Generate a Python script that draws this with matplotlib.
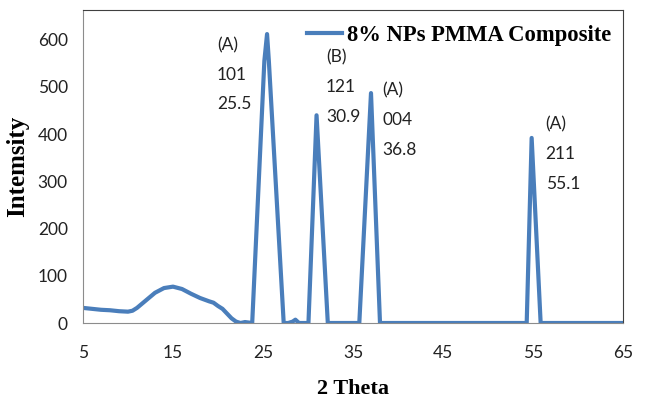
import matplotlib
matplotlib.use('Agg')
import matplotlib.pyplot as plt

# XRD pattern
theta = [5.0, 6.0, 7.0, 8.0, 9.0, 10.0, 10.5, 11.0, 12.0, 13.0, 14.0, 15.0,
         16.0, 17.0, 18.0, 19.0, 19.5, 20.0, 20.5, 21.0, 21.5, 22.0, 22.5,
         23.0, 23.8, 25.15, 25.45, 25.65, 27.3, 27.8, 28.3, 28.6, 29.0,
         30.05, 30.95, 32.2, 35.7, 37.0, 38.0, 54.3, 54.85, 55.85, 65.0]
intensity = [32, 30, 28, 27, 25, 24, 26, 32, 48, 64, 74, 77,
             72, 62, 53, 46, 43, 36, 30, 20, 10, 3, 0,
             2, 0, 555, 612, 555, 0, 0, 3, 7, 0,
             0, 440, 0, 0, 487, 0, 0, 392, 0, 0]

series_name = '8% NPs PMMA Composite'
x_ticks = [5, 15, 25, 35, 45, 55, 65]
y_ticks = [0, 100, 200, 300, 400, 500, 600]

# peak labels: phase, hkl, position
peak_labels = [('(A)', '101', '25.5'), ('(B)', '121', '30.9'),
               ('(A)', '004', '36.8'), ('(A)', '211', '55.1')]
label_x = [19.9, 32.0, 38.3, 56.4]
label_y = [606, 579, 509, 437]

blue = '#4A7EBB'
serif = ['Liberation Serif', 'DejaVu Serif']
tickfont = ['Lato', 'DejaVu Sans']

fig = plt.figure(figsize=(6.46, 4.03), dpi=100)
ax = fig.add_axes([83/646, 80/403, 540/646, 313/403])

ax.plot(theta, intensity, color=blue, lw=3, label=series_name,
        solid_joinstyle='round')

ax.set_xlim(5, 65)
ax.set_ylim(0, 663)
ax.set_xticks(x_ticks)
ax.set_yticks(y_ticks)
ax.tick_params(length=0, labelsize=12.5, colors='#222222')
ax.tick_params(axis='x', pad=16)
ax.tick_params(axis='y', pad=11)
for lab in ax.get_xticklabels() + ax.get_yticklabels():
    lab.set_family(tickfont)

ax.spines['left'].set_color('#8c8c8c')
ax.spines['bottom'].set_color('#8c8c8c')
ax.spines['top'].set_color('#404040')
ax.spines['right'].set_color('#404040')

for (a, b, c), x, y in zip(peak_labels, label_x, label_y):
    ax.text(x, y, a + '\n' + b + '\n' + c, va='top', ha='left', fontsize=12.5,
            family=tickfont, color='#222222', linespacing=2.05)

ax.set_xlabel('2 Theta', family=serif, fontweight='bold', fontsize=16,
              labelpad=13)
ax.set_ylabel('Intemsity', family=serif, fontweight='bold', fontsize=18,
              labelpad=6)

ax.legend(loc='center left', bbox_to_anchor=(0.415, 0.92), frameon=False,
          borderpad=0, borderaxespad=0, handlelength=1.55, handletextpad=0.22,
          prop={'family': serif, 'weight': 'bold', 'size': 16.3})

fig.savefig('out.png', dpi=100)
